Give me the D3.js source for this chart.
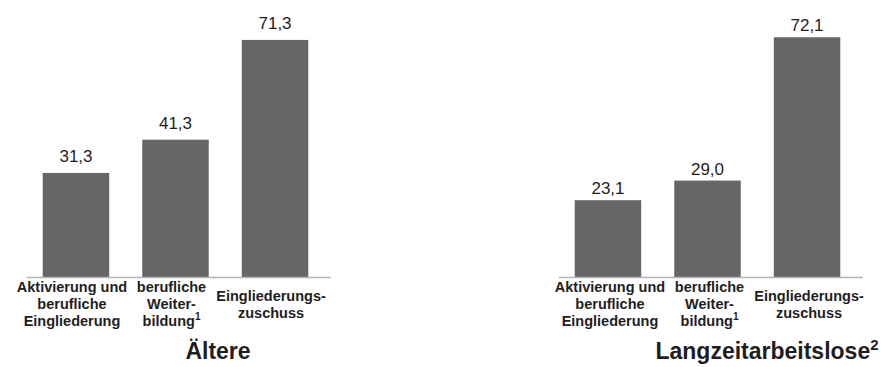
<!DOCTYPE html>
<html>
<head>
<meta charset="utf-8">
<script src="https://cdn.jsdelivr.net/npm/d3@7"></script>
<style>
  html, body { margin: 0; padding: 0; background: #ffffff; }
  svg { display: block; font-family: Arial, "Liberation Sans", Helvetica, sans-serif; }
</style>
</head>
<body>
<svg id="chart" width="882" height="367"></svg>
<script>
// ---- data ----
const categories = ["Aktivierung und berufliche Eingliederung", "berufliche Weiterbildung¹", "Eingliederungszuschuss"];
const categoryLines = [
  ["Aktivierung und", "berufliche", "Eingliederung"],
  ["berufliche", "Weiter-", "bildung^1"],
  ["Eingliederungs-", "zuschuss"]
];
const valuesAeltere = [31.3, 41.3, 71.3];
const valuesLangzeit = [23.1, 29.0, 72.1];
const panelTitles = ["Ältere", "Langzeitarbeitslose^2"];
const yMax = 80;

// ---- layout ----
const baseY = 277;
const panels = [
  { values: valuesAeltere, title: panelTitles[0], axis: [27, 331], band: [27, 324], titleX: 218, labelGap: 11, labelShift: -4 },
  { values: valuesLangzeit, title: panelTitles[1], axis: [559, 863], band: [559, 856], titleX: 767, labelGap: 6, labelShift: 2 }
];
const barColor = "#666668";
const textColor = "#1e1e1e";
const axisColor = "#b4b4b4";

const de = d3.formatLocale({ decimal: ",", thousands: ".", grouping: [3], currency: ["", " €"] });
const fmt = de.format(".1f");

const svg = d3.select("#chart");
const y = d3.scaleLinear().domain([0, yMax]).range([baseY, 11]);

function addTextWithSup(sel, str, supSize) {
  const parts = str.split("^");
  sel.append("tspan").text(parts[0]);
  if (parts.length > 1) {
    sel.append("tspan").attr("font-size", supSize).attr("dy", -supSize * 0.6).text(parts[1]);
  }
}

panels.forEach(p => {
  const g = svg.append("g");
  const x = d3.scaleBand().domain(categories).range(p.band).paddingInner(0.332).paddingOuter(0.158);
  const data = categories.map((c, i) => ({ cat: c, value: p.values[i], lines: categoryLines[i] }));

  // bars
  g.selectAll("rect.bar").data(data).join("rect")
    .attr("class", "bar")
    .attr("x", d => x(d.cat))
    .attr("y", d => y(d.value))
    .attr("width", x.bandwidth())
    .attr("height", d => y(0) - y(d.value))
    .attr("fill", barColor);

  // baseline axis
  g.append("line")
    .attr("x1", p.axis[0]).attr("x2", p.axis[1])
    .attr("y1", y(0) + 0.5).attr("y2", y(0) + 0.5)
    .attr("stroke", axisColor).attr("stroke-width", 1.5);

  // value labels
  g.selectAll("text.val").data(data).join("text")
    .attr("class", "val")
    .attr("x", d => x(d.cat) + x.bandwidth() / 2)
    .attr("y", d => y(d.value) - p.labelGap)
    .attr("text-anchor", "middle")
    .attr("font-size", 17)
    .attr("fill", textColor)
    .text(d => fmt(d.value));

  // category labels
  const lineH = 17;
  data.forEach(d => {
    const n = d.lines.length;
    const y0 = 292 + (3 - n) * 8.5;
    d.lines.forEach((ln, j) => {
      const t = g.append("text")
        .attr("x", x(d.cat) + x.bandwidth() / 2 + p.labelShift)
        .attr("y", y0 + j * lineH)
        .attr("text-anchor", "middle")
        .attr("font-size", 14.5)
        .attr("font-weight", "bold")
        .attr("fill", textColor);
      addTextWithSup(t, ln, 10);
    });
  });

  // panel title
  const tt = g.append("text")
    .attr("x", p.titleX)
    .attr("y", 359)
    .attr("text-anchor", "middle")
    .attr("font-size", 23)
    .attr("font-weight", "bold")
    .attr("fill", textColor);
  addTextWithSup(tt, p.title, 15);
});
</script>
</body>
</html>
